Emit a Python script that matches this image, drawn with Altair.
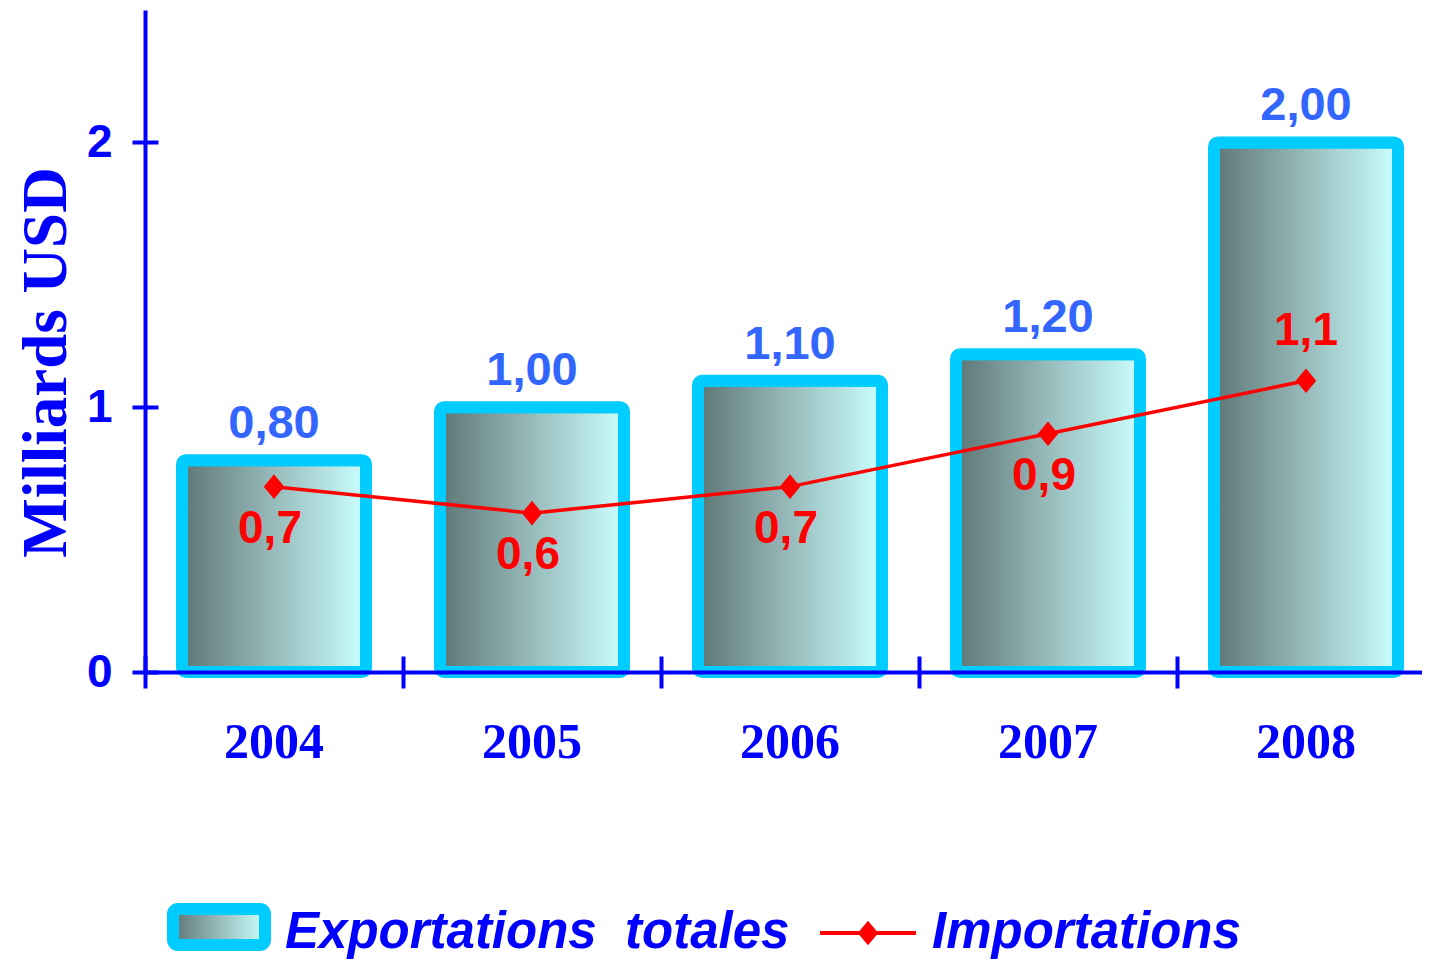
import altair as alt
import pandas as pd

years = ["2004", "2005", "2006", "2007", "2008"]
exports = [0.80, 1.00, 1.10, 1.20, 2.00]
imports = [0.7, 0.6, 0.7, 0.9, 1.1]
export_labels = ["0,80", "1,00", "1,10", "1,20", "2,00"]
import_labels = ["0,7", "0,6", "0,7", "0,9", "1,1"]
legend_labels = ["Exportations\u00a0 totales", "Importations"]
y_tick_values = [0, 1, 2]

df = pd.DataFrame({
    "year": years, "exp": exports, "imp": imports,
    "exp_lbl": export_labels, "imp_lbl": import_labels,
})
df["above"] = [False, False, False, False, True]

BLUE = "#0000ff"
RED = "#ff0000"
CYAN = "#00ccff"
NARROW = "Liberation Sans Narrow, Arial Narrow, Liberation Sans"
DIAMOND = "M0,-1.2L1,0L0,1.2L-1,0Z"

grad = alt.Gradient(
    gradient="linear",
    stops=[
        alt.GradientStop(color="#5e7575", offset=0),
        alt.GradientStop(color="#92b4b4", offset=0.45),
        alt.GradientStop(color="#cbffff", offset=1),
    ],
    x1=0, x2=1, y1=0, y2=0,
)

xscale = alt.Scale(range=[0, 1290], paddingInner=0.287, paddingOuter=0.1435)
yscale = alt.Scale(domain=[0, 2.5], nice=False)

x_main = alt.X("year:N", scale=xscale, axis=alt.Axis(
    orient="bottom", title=None, labelAngle=0,
    labelFont="Liberation Serif", labelFontWeight="bold", labelFontSize=50,
    labelColor=BLUE, labelPadding=45, ticks=False, tickSize=0,
    domainColor=BLUE, domainWidth=4, grid=False, zindex=1))
y_main = alt.Y("exp:Q", scale=yscale, axis=alt.Axis(
    orient="left", values=y_tick_values, format="d",
    title="Milliards USD", titleFont="Liberation Serif", titleFontSize=63,
    titleFontWeight="bold", titleColor=BLUE, titleAngle=-90,
    titleX=-80, titleY=352, titleAlign="center", titleBaseline="alphabetic",
    labelFont="Liberation Sans", labelFontSize=46, labelFontWeight="bold",
    labelColor=BLUE, labelPadding=33, ticks=False, tickSize=0,
    domainColor=BLUE, domainWidth=4, grid=False, zindex=1))

x_ticks = alt.X("year:N", scale=xscale, axis=alt.Axis(
    orient="bottom", title=None, labels=False, domain=False, ticks=True,
    tickOffset=-129, tickSize=32, tickWidth=4, tickColor=BLUE,
    offset=-16, grid=False, zindex=1))
y_ticks = alt.Y("imp:Q", scale=yscale, axis=alt.Axis(
    orient="left", title=None, labels=False, domain=False, ticks=True,
    values=y_tick_values, tickSize=26, tickWidth=4, tickColor=BLUE,
    offset=-13, grid=False, zindex=1))

x_plain = alt.X("year:N", scale=xscale, axis=None)

base = alt.Chart(df)

bars = base.mark_bar(fill=grad, stroke=CYAN, strokeWidth=12, cornerRadius=4).encode(
    x=x_main, y=y_main)

bar_text = base.mark_text(font=NARROW, fontWeight="bold", fontSize=47, color="#3366ff",
                          baseline="alphabetic", dy=-22).encode(
    x=x_plain, y=alt.Y("exp:Q", scale=yscale, axis=None), text="exp_lbl:N")

line = base.mark_line(color=RED, strokeWidth=3.5).encode(x=x_ticks, y=y_ticks)

points = base.mark_point(shape=DIAMOND, filled=True, size=420, color=RED, opacity=1).encode(
    x=x_plain, y=alt.Y("imp:Q", scale=yscale, axis=None))

imp_below = base.transform_filter("!datum.above").mark_text(
    font=NARROW, fontWeight="bold", fontSize=46, color=RED,
    baseline="alphabetic", dy=56, dx=-4).encode(
    x=x_plain, y=alt.Y("imp:Q", scale=yscale, axis=None), text="imp_lbl:N")

imp_above = base.transform_filter("datum.above").mark_text(
    font=NARROW, fontWeight="bold", fontSize=46, color=RED,
    baseline="alphabetic", dy=-36).encode(
    x=x_plain, y=alt.Y("imp:Q", scale=yscale, axis=None), text="imp_lbl:N")

leg1 = alt.Chart(pd.DataFrame({"label": [legend_labels[0]]}))
leg2 = alt.Chart(pd.DataFrame({"label": [legend_labels[1]]}))

leg_rect = leg1.mark_rect(fill=grad, stroke=CYAN, strokeWidth=12, cornerRadius=5).encode(
    x=alt.value(28), x2=alt.value(120), y=alt.value(899), y2=alt.value(935))
leg_text1 = leg1.mark_text(font="Liberation Sans", fontWeight="bold", fontStyle="italic",
                           fontSize=51, color=BLUE, align="left", baseline="alphabetic").encode(
    x=alt.value(140), y=alt.value(938), text="label:N")
leg_line = leg2.mark_rule(color=RED, strokeWidth=4).encode(
    x=alt.value(675), x2=alt.value(771), y=alt.value(923))
leg_pt = leg2.mark_point(shape=DIAMOND, filled=True, size=420, color=RED, opacity=1).encode(
    x=alt.value(723), y=alt.value(923))
leg_text2 = leg2.mark_text(font="Liberation Sans", fontWeight="bold", fontStyle="italic",
                           fontSize=51, color=BLUE, align="left", baseline="alphabetic").encode(
    x=alt.value(787), y=alt.value(938), text="label:N")

chart = alt.layer(
    bars, line, points, imp_below, imp_above, bar_text,
    leg_rect, leg_text1, leg_line, leg_pt, leg_text2,
).resolve_axis(x="independent", y="independent").properties(
    width=1277, height=662,
    padding={"left": 137, "top": 2, "right": 0, "bottom": 288},
    autosize=alt.AutoSizeParams(type="none"),
).configure_view(strokeWidth=0)

chart.save("out.html", embed_options={"renderer": "svg", "actions": False})
